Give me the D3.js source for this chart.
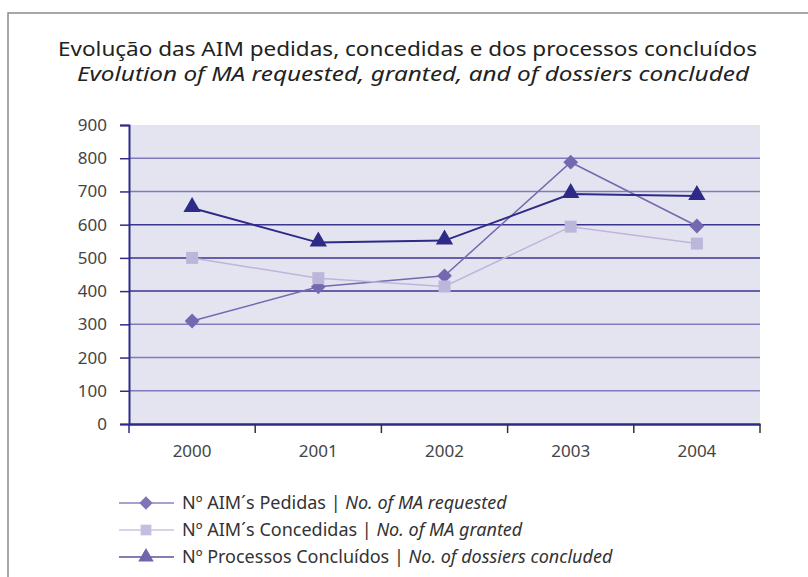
<!DOCTYPE html>
<html>
<head>
<meta charset="utf-8">
<script src="https://cdn.jsdelivr.net/npm/d3@7"></script>
<style>
  body { margin: 0; background: #fff; }
  text { font-family: "Noto Sans", "Open Sans", sans-serif; fill: #333; }
</style>
</head>
<body>
<svg id="chart" width="808" height="577"></svg>
<script>
const years = ["2000", "2001", "2002", "2003", "2004"];
const pedidas = [310, 413, 446, 788, 596];
const concedidas = [500, 439, 414, 594, 543];
const concluidos = [650, 546, 552, 692, 686];
const yTicks = [0, 100, 200, 300, 400, 500, 600, 700, 800, 900];

const titlePt = "Evolução das AIM pedidas, concedidas e dos processos concluídos";
const titleEn = "Evolution of MA requested, granted, and of dossiers concluded";

// square rotated 45deg gives the flat diamond of the original
const diamond = { draw(ctx, size) { const r = Math.sqrt(size / 2); ctx.moveTo(0, -r); ctx.lineTo(r, 0); ctx.lineTo(0, r); ctx.lineTo(-r, 0); ctx.closePath(); } };

const series = [
    { pt: "Nº AIM´s Pedidas", en: "No. of MA requested", values: pedidas,
      line: "#7468b0", fill: "#7468b0", width: 1.5, shape: diamond, size: 110,
      legLine: "#8a80c0", legFill: "#7e74b8" },
    { pt: "Nº AIM´s Concedidas", en: "No. of MA granted", values: concedidas,
      line: "#bcb6da", fill: "#bcb6da", width: 1.5, shape: d3.symbolSquare, size: 144,
      legLine: "#c9c5e3", legFill: "#c4bfe0" },
    { pt: "Nº Processos Concluídos", en: "No. of dossiers concluded", values: concluidos,
      line: "#2e2a87", fill: "#2e2a87", width: 2, shape: d3.symbolTriangle, size: 130,
      legLine: "#5a52a0", legFill: "#7064ad" }
];

const svg = d3.select("#chart");
const margin = { left: 129, right: 48, top: 125, bottom: 153 };
const W = 808, H = 577;

// frame
svg.append("path")
    .attr("d", "M8,577V13H808")
    .attr("fill", "none")
    .attr("stroke", "#8a8a8a")
    .attr("stroke-width", 1.5);

// title, squeezed to the narrow face of the original
svg.append("text").attr("x", 58).attr("y", 56)
    .attr("font-size", 20.5).style("fill", "#222")
    .attr("textLength", 699).attr("lengthAdjust", "spacingAndGlyphs")
    .text(titlePt);
svg.append("text").attr("x", 77).attr("y", 81)
    .attr("font-size", 20.5).attr("font-style", "italic").style("fill", "#222")
    .attr("textLength", 672).attr("lengthAdjust", "spacingAndGlyphs")
    .text(titleEn);

const x = d3.scaleBand().domain(years).range([margin.left, W - margin.right]);
const y = d3.scaleLinear().domain([0, 900]).range([H - margin.bottom, margin.top]);

// plot background
svg.append("rect")
    .attr("x", x.range()[0]).attr("y", y(900))
    .attr("width", x.range()[1] - x.range()[0])
    .attr("height", y(0) - y(900))
    .attr("fill", "#e4e4f1");

// gridlines
const darkGrid = v => v >= 400 && v <= 600;
svg.append("g").selectAll("line")
    .data(yTicks.filter(v => v > 0 && v < 900))
    .join("line")
    .attr("x1", x.range()[0]).attr("x2", x.range()[1])
    .attr("y1", d => y(d)).attr("y2", d => y(d))
    .attr("stroke", d => darkGrid(d) ? "#3a3590" : "#8279bb")
    .attr("stroke-width", 1.5);

// y axis
const yAxis = svg.append("g")
    .attr("transform", `translate(${x.range()[0]},0)`)
    .call(d3.axisLeft(y).tickValues(yTicks).tickSize(9).tickPadding(13));
yAxis.select(".domain").attr("stroke", "#2e2a87").attr("stroke-width", 2);
yAxis.selectAll(".tick line").attr("stroke", "#2e2a87").attr("stroke-width", 1.5);
yAxis.selectAll(".tick text").attr("font-size", 17)
    .style("font-family", "Noto Sans, sans-serif").style("fill", "#444");

// x axis
const xAxis = svg.append("g")
    .attr("transform", `translate(0,${y(0)})`)
    .call(d3.axisBottom(x).tickSize(0).tickPadding(21));
xAxis.select(".domain").attr("stroke", "#2e2a87").attr("stroke-width", 2.5);
xAxis.selectAll(".tick text").attr("font-size", 17)
    .style("font-family", "Noto Sans, sans-serif").style("fill", "#444");
// category separators
const edges = years.map(d => x(d)).concat([x.range()[1]]);
svg.append("g").selectAll("line")
    .data(edges)
    .join("line")
    .attr("x1", d => d).attr("x2", d => d)
    .attr("y1", y(0)).attr("y2", y(0) + 9)
    .attr("stroke", (d, i) => i === 0 ? "#2e2a87" : "#333")
    .attr("stroke-width", 1.5);

// lines and markers
const cx = i => x(years[i]) + x.bandwidth() / 2;
const line = d3.line().x((d, i) => cx(i)).y(d => y(d));

series.forEach(s => {
    svg.append("path")
        .attr("d", line(s.values))
        .attr("fill", "none")
        .attr("stroke", s.line)
        .attr("stroke-width", s.width);
});
series.forEach(s => {
    svg.append("g").selectAll("path")
        .data(s.values)
        .join("path")
        .attr("transform", (d, i) => `translate(${cx(i)},${y(d) + (s.shape === d3.symbolTriangle ? -1 : 0)})`)
        .attr("d", d3.symbol(s.shape, s.size))
        .attr("fill", s.fill);
});

// legend
const leg = svg.append("g").attr("transform", "translate(119,503)");
series.forEach((s, i) => {
    const g = leg.append("g").attr("transform", `translate(0,${i * 27})`);
    g.append("line").attr("x1", 0).attr("x2", 55).attr("y1", 0).attr("y2", 0)
        .attr("stroke", s.legLine).attr("stroke-width", 1.5);
    g.append("path").attr("transform", "translate(27,0)")
        .attr("d", d3.symbol(s.shape, s.size * 0.8)).attr("fill", s.legFill);
    const t = g.append("text").attr("x", 63).attr("y", 6).attr("font-size", 18);
    t.append("tspan").text(s.pt + " | ");
    t.append("tspan").attr("font-style", "italic").text(s.en);
});
</script>
</body>
</html>
